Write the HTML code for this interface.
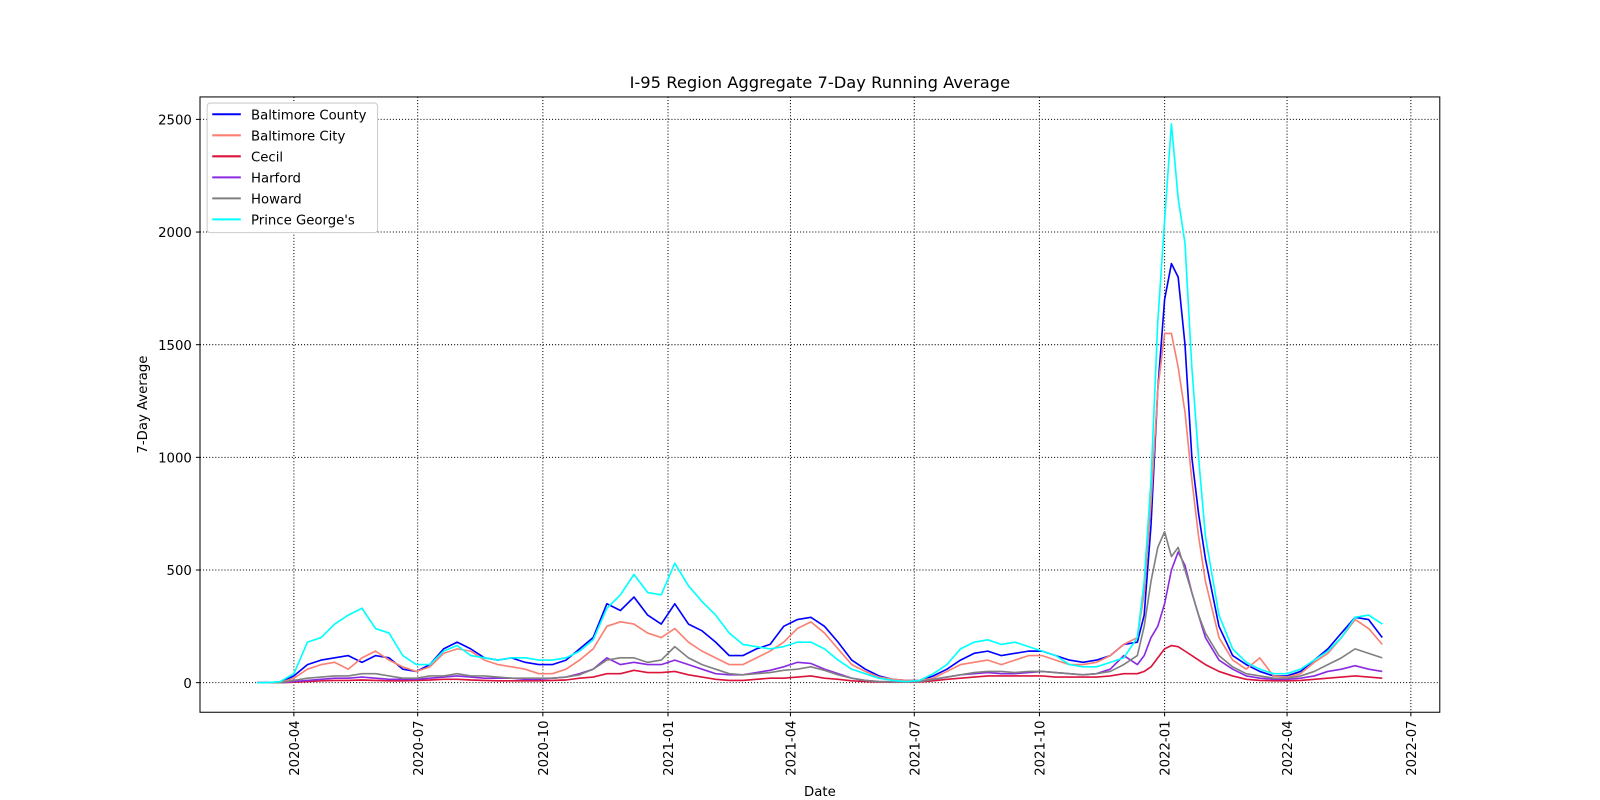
<!DOCTYPE html>
<html><head><meta charset="utf-8"><style>
html,body{margin:0;padding:0;background:#fff;overflow:hidden;width:1600px;height:800px;font-family:"Liberation Sans","DejaVu Sans",sans-serif;}
svg{display:block;}
svg text{font-family:"DejaVu Sans","Liberation Sans",sans-serif;}
</style></head><body>
<svg id="chart" width="1600" height="800" viewBox="0 0 1568 784" preserveAspectRatio="none" xmlns="http://www.w3.org/2000/svg"></svg>
<script>
// day offsets from 2020-04-01
const days=[-27,-20,-10,0,10,20,30,40,50,60,70,80,90,100,110,120,130,140,150,160,170,180,190,200,210,220,230,240,250,260,270,280,290,300,310,320,330,340,350,360,370,380,390,400,410,420,430,440,450,460,470,480,490,500,510,520,530,540,550,560,570,580,590,600,610,620,625,630,635,640,645,650,655,660,665,670,680,690,700,710,720,730,740,750,760,770,780,790,800];
const baltCounty=[0,0,0,30,80,100,110,120,90,120,110,60,50,80,150,180,150,110,100,110,90,80,80,100,150,200,350,320,380,300,260,350,260,230,180,120,120,150,170,250,280,290,250,180,100,60,30,15,10,10,30,60,100,130,140,120,130,140,140,120,100,90,100,120,170,180,300,700,1300,1700,1860,1800,1500,1000,750,550,250,120,80,50,30,30,50,100,150,220,290,280,200];
const baltCity=[0,0,0,20,60,80,90,60,110,140,100,70,50,70,130,150,140,100,80,70,60,40,40,60,100,150,250,270,260,220,200,240,180,140,110,80,80,110,140,180,240,270,220,150,80,50,25,15,10,10,20,50,80,90,100,80,100,120,120,100,80,80,90,120,170,200,400,800,1300,1550,1550,1400,1200,900,650,450,200,100,60,110,30,25,40,90,130,200,280,240,170];
const cecil=[0,0,0,2,5,8,10,10,12,10,8,8,10,12,15,15,12,10,8,8,8,8,10,12,20,25,40,40,55,45,45,50,35,25,15,10,10,15,20,20,25,30,20,15,8,5,3,2,2,3,8,15,20,25,30,30,30,30,30,25,25,25,25,30,40,40,50,70,110,150,165,160,140,120,100,80,50,30,15,10,8,8,10,15,20,25,30,25,20];
const harford=[0,0,0,5,10,15,20,20,25,20,15,15,15,20,25,30,25,20,20,20,15,15,20,25,40,60,110,80,90,80,80,100,80,60,40,35,35,45,55,70,90,85,60,40,20,10,5,3,3,5,15,25,35,40,45,40,40,45,50,45,40,35,40,60,120,80,120,200,250,350,500,580,520,400,300,200,100,60,30,20,15,15,20,30,50,60,75,60,50];
const howard=[0,0,0,10,20,25,30,30,40,40,30,20,20,30,30,40,30,30,25,20,20,20,20,25,35,60,100,110,110,90,100,160,110,80,60,40,35,40,45,55,60,70,55,35,20,10,5,3,2,5,15,25,35,45,50,50,45,50,50,45,40,35,40,50,80,120,250,450,600,670,560,600,500,400,300,220,120,70,40,30,20,20,30,50,80,110,150,130,110];
const princeGeorges=[0,0,5,40,180,200,260,300,330,240,220,120,80,80,140,165,120,110,100,110,110,100,100,110,140,190,330,390,480,400,390,530,430,360,300,220,170,160,150,160,180,180,150,100,60,40,20,10,5,10,40,80,150,180,190,170,180,160,140,120,80,70,70,90,110,200,450,900,1600,2050,2480,2150,1950,1400,1000,650,300,150,90,60,40,40,60,100,140,200,290,300,260];
const seriesNames=["Baltimore County","Baltimore City","Cecil","Harford","Howard","Prince George's"];
const seriesColors=["#0000ff","#fa8072","#dc143c","#8a2be2","#808080","#00ffff"];
const seriesData=[baltCounty,baltCity,cecil,harford,howard,princeGeorges];
const yTicks=[0,500,1000,1500,2000,2500];
const xTickLabels=["2020-04","2020-07","2020-10","2021-01","2021-04","2021-07","2021-10","2022-01","2022-04","2022-07"];
const xTickDays=[0,91,183,275,365,456,548,640,730,821];

const NS="http://www.w3.org/2000/svg";
const svg=document.getElementById('chart');
const L=196,R=1411,T=95,B=698;
const x=d=>288+d*1.3333;
const y=v=>669-v*0.2208;
function mk(tag,attrs,parent){const e=document.createElementNS(NS,tag);for(const k in attrs)e.setAttribute(k,attrs[k]);(parent||svg).appendChild(e);return e;}

const grid=mk('g',{});


yTicks.forEach(v=>{
  const l=mk('line',{x1:L,x2:R,y1:y(v),y2:y(v),stroke:'#000','stroke-width':1,'stroke-dasharray':'1,2'},grid);
  
  
  const t=mk('line',{x1:L-4,x2:L,y1:y(v),y2:y(v),stroke:'#000'});
  
  
  const tx=mk('text',{x:L-8,y:y(v)+5,'text-anchor':'end','font-size':13});
  tx.textContent=v;
  
  
});
xTickDays.forEach((d,i)=>{
  const l=mk('line',{x1:x(d),x2:x(d),y1:T,y2:B,stroke:'#000','stroke-width':1,'stroke-dasharray':'1,2'},grid);
  
  
  const t=mk('line',{x1:x(d),x2:x(d),y1:B,y2:B+4,stroke:'#000'});
  
  
  const tx=mk('text',{x:0,y:0,'text-anchor':'end','font-size':13,transform:`translate(${x(d)+5},${B+8}) rotate(-90)`});
  tx.textContent=xTickLabels[i];
  
  
});
seriesData.forEach((arr,s)=>{
  const pts=arr.map((v,i)=>x(days[i]).toFixed(1)+','+y(v).toFixed(1)).join(' ');
  const p=mk('polyline',{points:pts,fill:'none',stroke:seriesColors[s],'stroke-width':1.6,'stroke-linejoin':'round'});
  
  
});
const frame=mk('rect',{x:L,y:T,width:R-L,height:B-T,fill:'none',stroke:'#000','stroke-width':1});


const title=mk('text',{x:(L+R)/2,y:86,'text-anchor':'middle','font-size':16});
title.textContent='I-95 Region Aggregate 7-Day Running Average';


const xl=mk('text',{x:(L+R)/2,y:780,'text-anchor':'middle','font-size':13});
xl.textContent='Date';


const yl=mk('text',{x:0,y:0,'text-anchor':'middle','font-size':13,transform:`translate(144,${(T+B)/2}) rotate(-90)`});
yl.textContent='7-Day Average';


const lg=mk('g',{});


mk('rect',{x:203,y:101,width:167,height:127,rx:3,fill:'#fff',stroke:'#ccc'},lg);
seriesNames.forEach((n,i)=>{
  const yy=112+i*20.6;
  const ln=mk('line',{x1:208,x2:236,y1:yy,y2:yy,stroke:seriesColors[i],'stroke-width':2},lg);
  
  
  const t=mk('text',{x:246,y:yy+5,'font-size':13},lg);
  t.textContent=n;
  
  
});
</script>
</body></html>
